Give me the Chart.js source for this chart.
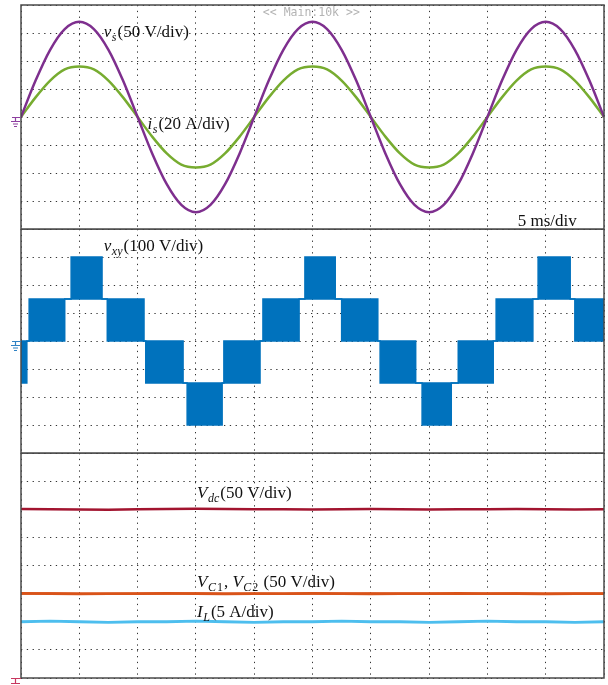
<!DOCTYPE html>
<html lang="en">
<head>
<meta charset="UTF-8">
<title>Scope capture</title>
<script src="https://cdn.jsdelivr.net/npm/chart.js"></script>
<style>
  body { margin: 0; background: #fff; }
  #wrap { position: relative; width: 608px; height: 685px; }
  #wrap canvas { position: absolute; left: 0; }
</style>
</head>
<body>
<div id="wrap">
  <canvas id="panelAc" width="608" height="232" style="top:0"></canvas>
  <canvas id="panelVxy" width="608" height="226" style="top:229px"></canvas>
  <canvas id="panelDc" width="608" height="232" style="top:453px"></canvas>
</div>

<script>
// time base: 5 ms/div, 10 divisions
const timeMs = [0, 1.25, 2.5, 3.75, 5, 6.25, 7.5, 8.75, 10, 11.25, 12.5, 13.75, 15, 16.25, 17.5, 18.75,
                20, 21.25, 22.5, 23.75, 25, 26.25, 27.5, 28.75, 30, 31.25, 32.5, 33.75, 35, 36.25, 37.5, 38.75,
                40, 41.25, 42.5, 43.75, 45, 46.25, 47.5, 48.75, 50];

// grid voltage v_s (V) and grid current i_s (A)
const vsVolts = [0, 65, 120, 157, 170, 157, 120, 65, 0, -65, -120, -157, -170, -157, -120, -65,
                 0, 65, 120, 157, 170, 157, 120, 65, 0, -65, -120, -157, -170, -157, -120, -65,
                 0, 65, 120, 157, 170, 157, 120, 65, 0];
const isAmps = [0, 14, 26, 34, 36, 34, 26, 14, 0, -14, -26, -34, -36, -34, -26, -14,
                0, 14, 26, 34, 36, 34, 26, 14, 0, -14, -26, -34, -36, -34, -26, -14,
                0, 14, 26, 34, 36, 34, 26, 14, 0];

// v_xy: segment start times (ms) and the upper / lower level reached by the PWM in each segment (V)
const vxyEdges = [0, 0.5, 0.7, 3.75, 4.3, 6.95, 7.4, 10.55, 10.7, 13.9, 14.25, 17.25, 17.4, 20.5, 20.75, 23.85,
                  24.35, 26.95, 27.5, 30.6, 30.8, 33.85, 34.4, 36.9, 37.5, 40.5, 40.75, 43.9, 44.35, 47.1, 47.5, 50];
const vxyHigh = [0, 0, 150, 150, 300, 150, 150, 0, 0, -150, -150, -150, 0, 0, 150, 150,
                 300, 150, 150, 0, 0, -150, -150, -150, 0, 0, 150, 150, 300, 150, 150];
const vxyLow = [-150, 0, 0, 150, 150, 150, 0, 0, -150, -150, -300, -150, -150, 0, 0, 150,
                150, 150, 0, 0, -150, -150, -300, -150, -150, 0, 0, 150, 150, 150, 0];

// dc side, sampled every 2.5 ms
const dcTimeMs = [0, 2.5, 5, 7.5, 10, 12.5, 15, 17.5, 20, 22.5, 25, 27.5, 30, 32.5, 35, 37.5, 40, 42.5, 45, 47.5, 50];
const vdcVolts = [300.5, 300, 299.5, 299, 300, 300.5, 301, 300.5, 300, 300, 299.5, 300, 300.5, 300, 299.5, 300, 300, 300.5, 300, 299.5, 300];
const vc1Volts = [150.5, 150, 149.5, 150, 150, 150.5, 150, 149.5, 150, 150, 150.5, 150, 149.5, 150, 150, 150.5, 150, 150, 149.5, 150, 150];
const vc2Volts = [150, 150.5, 150, 149.5, 150, 150, 150.5, 150, 150, 149.5, 150, 150, 150.5, 150, 150, 149.5, 150, 150.5, 150, 150, 150];
const ilAmps = [10, 10.1, 10, 9.9, 10, 10, 10.1, 10, 9.9, 10, 10, 10.1, 10, 10, 9.9, 10, 10.1, 10, 10, 9.9, 10];

const pts = (xs, ys) => ys.map((y, i) => ({ x: xs[i], y: y }));
const stepPts = (edges, levels) => {
  const out = levels.map((y, i) => ({ x: edges[i], y: y }));
  out.push({ x: edges[edges.length - 1], y: levels[levels.length - 1] });
  return out;
};

const serif = "'Liberation Serif', 'DejaVu Serif', serif";

function drawMath(ctx, x, y, parts) {
  ctx.textBaseline = 'alphabetic';
  ctx.textAlign = 'left';
  parts.forEach(([txt, st]) => {
    let dy = 0, gap = 0;
    if (st === 'i') { ctx.font = 'italic 17px ' + serif; gap = 0.5; }
    else if (st === 'r') ctx.font = '17px ' + serif;
    else if (st === 'si') { ctx.font = 'italic 12px ' + serif; dy = 4; gap = 1; }
    else if (st === 'sr') { ctx.font = '12px ' + serif; dy = 4; gap = 1; }
    ctx.fillText(txt, x, y + dy);
    x += ctx.measureText(txt).width + gap;
  });
}

const scopePanel = {
  id: 'scopePanel',
  afterDatasetsDraw(chart, args, opts) {
    const { ctx, chartArea: a } = chart;
    const xs = chart.scales.x, ys = chart.scales.y;
    ctx.save();
    ctx.setLineDash([]);
    // frame
    ctx.strokeStyle = '#4a4a4a';
    ctx.lineWidth = 1.5;
    ctx.strokeRect(a.left, a.top, a.right - a.left, a.bottom - a.top);

    // ground marker
    const g = opts.ground;
    if (g) {
      const gy = Math.round(ys.getPixelForValue(0)) + 0.5;
      const l = Math.round(a.left);
      ctx.strokeStyle = g.color;
      ctx.lineWidth = 1.2;
      ctx.beginPath();
      if (g.kind === 'bottom') {
        ctx.moveTo(l - 10, gy); ctx.lineTo(l, gy);
        ctx.moveTo(l - 5.5, gy); ctx.lineTo(l - 5.5, gy + 5);
        ctx.moveTo(l - 10, gy + 5); ctx.lineTo(l - 1, gy + 5);
      } else {
        ctx.moveTo(l - 9, gy); ctx.lineTo(l, gy);
        ctx.moveTo(l - 5.5, gy); ctx.lineTo(l - 5.5, gy + 4);
        ctx.moveTo(l - 10, gy + 4); ctx.lineTo(l - 1, gy + 4);
        ctx.moveTo(l - 8, gy + 6.5); ctx.lineTo(l - 3, gy + 6.5);
        ctx.moveTo(l - 7, gy + 9); ctx.lineTo(l - 4, gy + 9);
      }
      ctx.stroke();
    }

    // captions
    ctx.fillStyle = '#111';
    (opts.labels || []).forEach(lb => {
      drawMath(ctx, xs.getPixelForValue(lb.t), ys.getPixelForValue(lb.v), lb.parts);
    });
    if (opts.banner) {
      ctx.font = "11.5px 'DejaVu Sans Mono', monospace";
      ctx.fillStyle = '#b4b4b4';
      ctx.textAlign = 'center';
      ctx.fillText(opts.banner.text, xs.getPixelForValue(opts.banner.t), ys.getPixelForValue(opts.banner.v));
    }
    ctx.restore();
  }
};

function scopeScales(yMin, yMax, yStep, extra) {
  const grid = { color: '#333', lineWidth: 1, drawTicks: false };
  const border = { display: false, dash: [1.3, 4.5] };
  const scales = {
    x: { type: 'linear', min: 0, max: 50, ticks: { display: false, stepSize: 5 }, grid: grid, border: border },
    y: { min: yMin, max: yMax, ticks: { display: false, stepSize: yStep }, grid: grid, border: border }
  };
  if (extra) scales.y2 = { display: false, min: extra[0], max: extra[1] };
  return scales;
}

function baseOptions(padding, scales, plug) {
  return {
    responsive: false,
    animation: false,
    layout: { padding: padding },
    elements: { point: { radius: 0 } },
    scales: scales,
    plugins: { legend: { display: false }, tooltip: { enabled: false }, scopePanel: plug }
  };
}

// panel 1: v_s and i_s
new Chart(document.getElementById('panelAc'), {
  type: 'line',
  data: {
    datasets: [
      { label: 'v_s', data: pts(timeMs, vsVolts), borderColor: '#7E2F8E', borderWidth: 2.5, cubicInterpolationMode: 'monotone' },
      { label: 'i_s', data: pts(timeMs, isAmps), yAxisID: 'y2', borderColor: '#77AC30', borderWidth: 2.5, cubicInterpolationMode: 'monotone' }
    ]
  },
  options: baseOptions({ left: 21, right: 4, top: 5, bottom: 3 }, scopeScales(-200, 200, 50, [-80, 80]), {
    ground: { color: '#8e3fa0' },
    banner: { text: '<< Main:10k >>', t: 24.9, v: 180 },
    labels: [
      { t: 7.1, v: 143, parts: [['v', 'i'], ['s', 'si'], ['(50 V/div)', 'r']] },
      { t: 10.85, v: -21, parts: [['i', 'i'], ['s', 'si'], ['(20 A/div)', 'r']] },
      { t: 42.6, v: -195, parts: [['5 ms/div', 'r']] }
    ]
  }),
  plugins: [scopePanel]
});

// panel 2: converter voltage v_xy
new Chart(document.getElementById('panelVxy'), {
  type: 'line',
  data: {
    datasets: [
      { label: 'v_xy upper', data: stepPts(vxyEdges, vxyHigh), stepped: true, borderColor: '#0072BD', borderWidth: 1.5,
        backgroundColor: '#0072BD', fill: '+1' },
      { label: 'v_xy lower', data: stepPts(vxyEdges, vxyLow), stepped: true, borderColor: '#0072BD', borderWidth: 1.5 }
    ]
  },
  options: baseOptions({ left: 21, right: 4, top: 0, bottom: 2 }, scopeScales(-400, 400, 100), {
    ground: { color: '#2f82c4' },
    labels: [
      { t: 7.1, v: 321, parts: [['v', 'i'], ['xy', 'si'], ['(100 V/div)', 'r']] }
    ]
  }),
  plugins: [scopePanel]
});

// panel 3: dc link voltages and load current
new Chart(document.getElementById('panelDc'), {
  type: 'line',
  data: {
    datasets: [
      { label: 'V_dc', data: pts(dcTimeMs, vdcVolts), borderColor: '#A2142F', borderWidth: 2.6 },
      { label: 'V_C1', data: pts(dcTimeMs, vc1Volts), borderColor: '#D95319', borderWidth: 2.6 },
      { label: 'V_C2', data: pts(dcTimeMs, vc2Volts), borderColor: '#D95319', borderWidth: 2.2 },
      { label: 'I_L', data: pts(dcTimeMs, ilAmps), yAxisID: 'y2', borderColor: '#4DBEEE', borderWidth: 2.8 }
    ]
  },
  options: baseOptions({ left: 21, right: 4, top: 0, bottom: 7 }, scopeScales(0, 400, 50, [0, 40]), {
    ground: { color: '#c8375f', kind: 'bottom' },
    labels: [
      { t: 15.1, v: 320, parts: [['V', 'i'], ['dc', 'si'], ['(50 V/div)', 'r']] },
      { t: 15.1, v: 162, parts: [['V', 'i'], ['C', 'si'], ['1', 'sr'], [', ', 'r'], ['V', 'i'], ['C', 'si'], ['2', 'sr'], [' (50 V/div)', 'r']] },
      { t: 15.1, v: 109, parts: [['I', 'i'], ['L', 'si'], ['(5 A/div)', 'r']] }
    ]
  }),
  plugins: [scopePanel]
});
</script>
</body>
</html>
